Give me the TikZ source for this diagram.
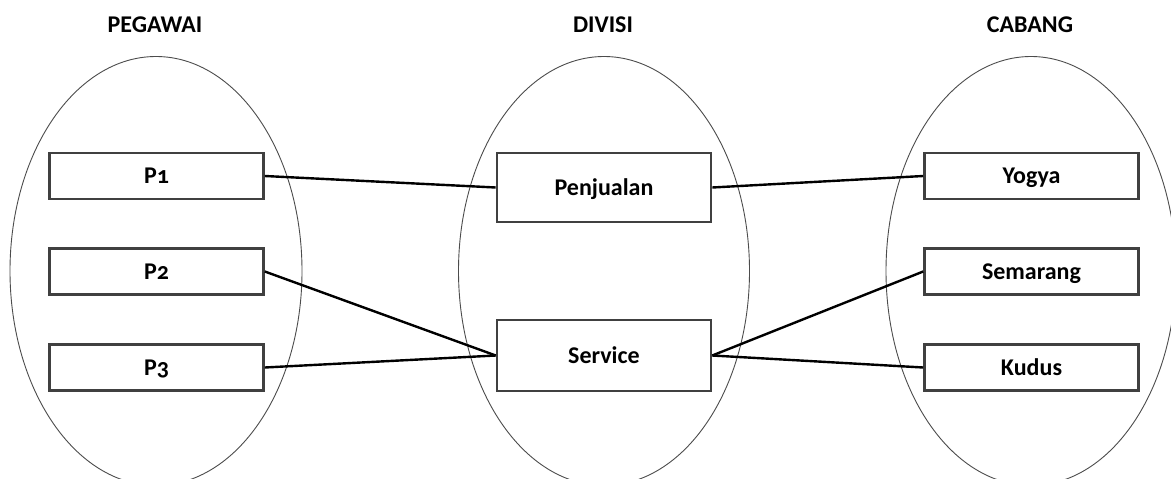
\documentclass[tikz,border=0pt]{standalone}
\usepackage{fontspec}
\setmainfont{Carlito}[Numbers=OldStyle]
\begin{document}
\begin{tikzpicture}[x=1pt,y=-1pt,
  settitle/.style={font=\bfseries\fontsize{24}{28}\selectfont},
  setoval/.style={draw=black!70,line width=0.9pt},
  member/.style={draw=black!75,line width=2.6pt,fill=white,inner sep=0pt,
    minimum width=214pt,text height=15pt,text depth=0pt,
    font=\bfseries\fontsize{24}{28}\selectfont},
  small/.style={member,minimum height=46pt},
  link/.style={line width=2.4pt,black}]
\useasboundingbox (0,0) rectangle (1171,479);
\clip (0,0) rectangle (1171,479);
\fill[white] (0,0) rectangle (1171,479);

% sets
\draw[setoval] (156,271) ellipse [x radius=146pt, y radius=214.5pt];
\draw[setoval] (604,271) ellipse [x radius=145.5pt, y radius=214.5pt];
\draw[setoval] (1031,271) ellipse [x radius=145pt, y radius=214.5pt];

% set titles
\node[settitle] (tpeg) at (155,25) {PEGAWAI};
\node[settitle] (tdiv) at (603,25) {DIVISI};
\node[settitle] (tcab) at (1030,25) {CABANG};

% members
\node[small] (p1) at (156.5,176) {P1};
\node[small] (p2) at (156.5,271.5) {P2};
\node[small] (p3) at (156.5,367.5) {P3};
\node[member,minimum height=69pt] (jual) at (604,187.5) {Penjualan};
\node[member,minimum height=71pt] (serv) at (604,355.5) {Service};
\node[small] (yog) at (1031.5,176) {Yogya};
\node[small] (smg) at (1031.5,271.5) {Semarang};
\node[small] (kds) at (1031.5,367.5) {Kudus};

% mappings
\draw[link] (p1.east) -- (jual.west);
\draw[link] (p2.east) -- (serv.west);
\draw[link] (p3.east) -- (serv.west);
\draw[link] (jual.east) -- (yog.west);
\draw[link] (serv.east) -- (smg.west);
\draw[link] (serv.east) -- (kds.west);
\end{tikzpicture}
\end{document}
